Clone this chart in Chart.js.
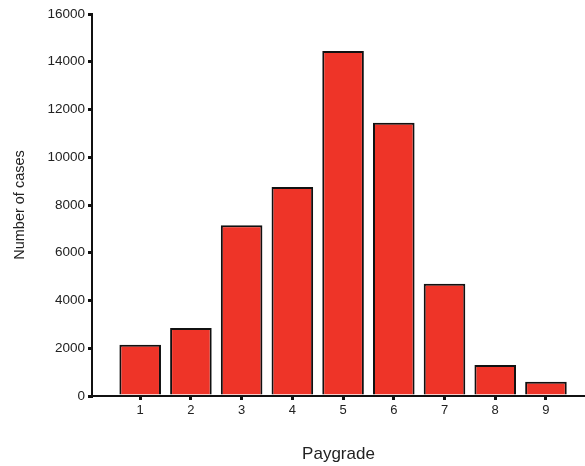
<!DOCTYPE html>
<html>
<head>
<meta charset="utf-8">
<script src="https://cdn.jsdelivr.net/npm/chart.js@4"></script>
<style>
  html, body { margin: 0; padding: 0; background: #fff; }
  #wrap { width: 585px; height: 466px; }
</style>
</head>
<body>
<div id="wrap"><canvas id="barChart"></canvas></div>
<script>
// paygrade categories and case counts
const paygrades = [1, 2, 3, 4, 5, 6, 7, 8, 9];
const cases = [2150, 2850, 7150, 8750, 14450, 11450, 4700, 1300, 600];
const yTicks = [0, 2000, 4000, 6000, 8000, 10000, 12000, 14000, 16000];

const font = 'Arial, "Liberation Sans", sans-serif';

new Chart(document.getElementById('barChart'), {
  type: 'bar',
  data: {
    datasets: [{
      label: 'Number of cases',
      data: paygrades.map((p, i) => ({ x: p, y: cases[i] })),
      backgroundColor: '#ee3428',
      borderColor: '#111',
      borderWidth: 2,
      barPercentage: 0.82,
      categoryPercentage: 1
    }]
  },
  options: {
    responsive: true,
    maintainAspectRatio: false,
    animation: false,
    layout: { padding: { top: 14, right: 0, left: 0, bottom: 0 } },
    plugins: { legend: { display: false }, tooltip: { enabled: false } },
    scales: {
      x: {
        type: 'linear',
        offset: false,
        min: 0.05,
        max: 9.77,
        afterBuildTicks: axis => { axis.ticks = paygrades.map(v => ({ value: v })); },
        afterFit: axis => { axis.height = 70; },
        border: { display: true, color: '#111', width: 2 },
        grid: { display: true, offset: false, drawOnChartArea: false, color: '#111', lineWidth: 3, tickLength: 4 },
        ticks: { color: '#222', font: { family: font, size: 13 }, padding: 3, maxRotation: 0,
                 callback: v => String(v) },
        title: {
          display: true,
          text: 'Paygrade',
          color: '#222',
          font: { family: font, size: 17 },
          padding: { top: 0, bottom: 1 }
        }
      },
      y: {
        min: 0,
        max: 16000,
        afterBuildTicks: axis => { axis.ticks = yTicks.map(v => ({ value: v })); },
        afterFit: axis => { axis.width = 92; },
        border: { display: true, color: '#111', width: 2 },
        grid: { display: true, drawOnChartArea: false, color: '#111', lineWidth: 3, tickLength: 4 },
        ticks: { color: '#222', font: { family: font, size: 13.5 }, padding: 3,
                 callback: v => String(v) },
        title: {
          display: true,
          text: 'Number of cases',
          color: '#222',
          font: { family: font, size: 14.5 },
          padding: { top: 11, bottom: 0 }
        }
      }
    }
  }
});
</script>
</body>
</html>
